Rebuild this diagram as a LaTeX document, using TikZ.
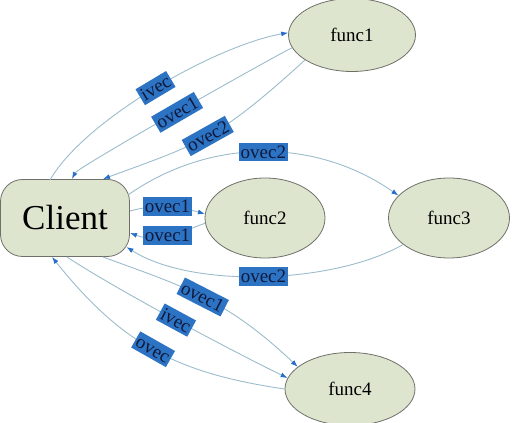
\documentclass[tikz,border=0pt]{standalone}
\usepackage{fontspec}
\setmainfont{Liberation Serif}
\usetikzlibrary{arrows.meta,shapes.geometric}
\definecolor{nodefill}{RGB}{221,229,207}
\definecolor{nodeline}{RGB}{110,112,105}
\definecolor{edgecol}{RGB}{155,188,205}
\definecolor{arrowcol}{RGB}{40,110,200}
\definecolor{labfill}{RGB}{45,115,195}
\definecolor{labtext}{RGB}{15,25,60}
\begin{document}
\begin{tikzpicture}[x=1pt,y=1pt,
  funcnode/.style={ellipse, draw=nodeline, fill=nodefill, line width=0.8pt, inner sep=0pt, font=\fontsize{19}{19}\selectfont},
  clientnode/.style={rectangle, rounded corners=22pt, draw=nodeline, fill=nodefill, line width=0.8pt, minimum width=129pt, minimum height=77pt, font=\fontsize{35}{35}\selectfont},
  conn/.style={draw=edgecol, line width=0.9pt, -{Latex[length=7pt,width=5pt,color=arrowcol]}},
  lab/.style={fill=labfill, text=labtext, inner xsep=2pt, inner ysep=2.5pt, text height=13pt, text depth=0.5pt, font=\fontsize{19}{19}\selectfont}]
\useasboundingbox (0,0) rectangle (515,423);
\node[clientnode] (client) at (65,205) {Client};
\node[funcnode, minimum width=127pt, minimum height=73pt] (func1) at (352,388) {func1};
\node[funcnode, minimum width=120pt, minimum height=80pt] (func2) at (265,205) {func2};
\node[funcnode, minimum width=121pt, minimum height=80pt] (func3) at (449,205) {func3};
\node[funcnode, minimum width=130pt, minimum height=73pt] (func4) at (350,34) {func4};

% client <-> func1
\draw[conn] ([shift={(-15,38)}]client.center) .. controls (85,304) and (217,378) .. (func1.178) node[lab, pos=0.5, sloped] {ivec};
\draw[conn] (func1.192) .. controls (273,366) and (78,256) .. ([shift={(7,39)}]client.center) node[lab, pos=0.5, sloped] {ovec1};
\draw[conn] (func1.208) .. controls (217,283) and (201,280) .. ([shift={(38,39)}]client.center) node[lab, pos=0.5, sloped] {ovec2};

% client <-> func3
\draw[conn] ([shift={(63,23)}]client.center) .. controls (211,286) and (316,285) .. (func3.156) node[lab, pos=0.5] {ovec2};
\draw[conn] (func3.210) .. controls (334,139) and (192,134) .. ([shift={(61.5,-29)}]client.center) node[lab, pos=0.5] {ovec2};

% client <-> func2
\draw[conn] ([shift={(65,7)}]client.center) to[out=15,in=165] node[lab, pos=0.5] {ovec1} (func2.176);
\draw[conn] (func2.185) to[out=200,in=-20] node[lab, pos=0.5] {ovec1} ([shift={(65,-15)}]client.center);

% client <-> func4
\draw[conn] ([shift={(38,-39)}]client.center) .. controls (182,137) and (225,125) .. (func4.157) node[lab, pos=0.5, sloped] {ovec1};
\draw[conn] ([shift={(2,-39)}]client.center) .. controls (117,133) and (234,71) .. (func4.170) node[lab, pos=0.5, sloped] {ivec};
\draw[conn] (func4.180) .. controls (175,50) and (121,80) .. ([shift={(-13,-39)}]client.center) node[lab, pos=0.5, sloped] {ovec};
\end{tikzpicture}
\end{document}
